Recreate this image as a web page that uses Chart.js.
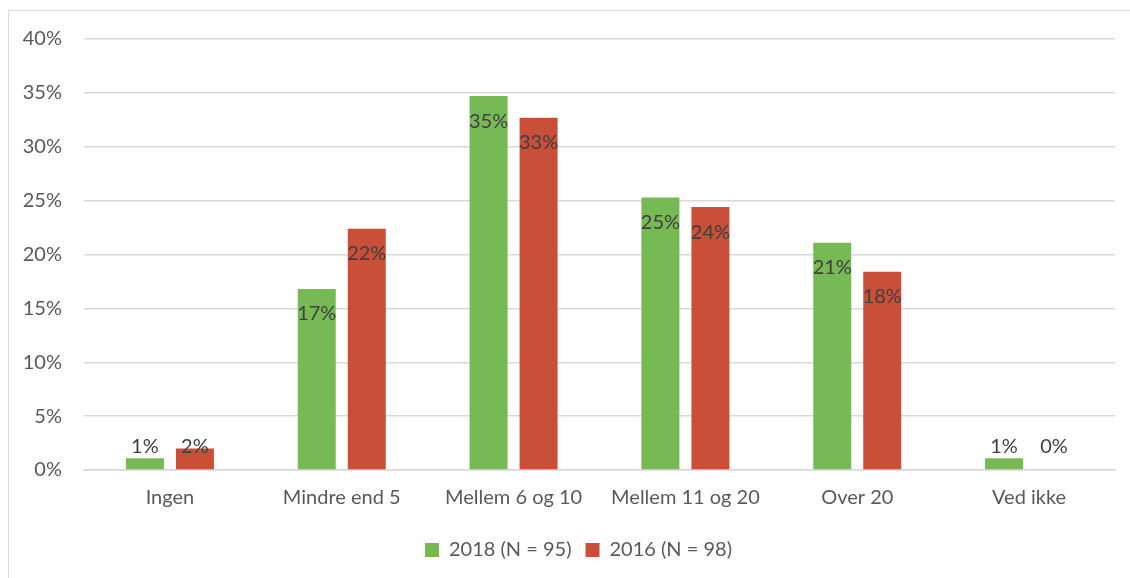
<!DOCTYPE html>
<html>
<head>
<meta charset="utf-8">
<script src="https://cdn.jsdelivr.net/npm/chart.js@4.4.1/dist/chart.umd.min.js"></script>
<style>
  html, body { margin: 0; padding: 0; background: #fff; }
  #wrap { position: relative; width: 1130px; height: 578px; overflow: hidden; }
  #frame { position: absolute; left: 8px; top: 10px; width: 1140px; height: 600px; border: 1px solid #d9d9d9; box-sizing: border-box; }
  #chart { position: absolute; left: 0; top: 0; }
</style>
</head>
<body>
<div id="wrap">
  <div id="frame"></div>
  <canvas id="chart" width="1130" height="578"></canvas>
</div>
<script>
// Data
const categories = ['Ingen', 'Mindre end 5', 'Mellem 6 og 10', 'Mellem 11 og 20', 'Over 20', 'Ved ikke'];
const values2018 = [1.1, 16.8, 34.7, 25.3, 21.1, 1.1];
const values2016 = [2.0, 22.4, 32.7, 24.4, 18.4, 0];
const seriesNames = ['2018 (N = 95)', '2016 (N = 98)'];
const yTicks = [0, 5, 10, 15, 20, 25, 30, 35, 40];

const FONT = 'Lato';
const FS = 20;
const GREEN = '#77b955';
const RED = '#c94f38';

// Value labels: inside the top of the bar, pushed up above the axis for short bars
const barLabels = {
  id: 'barLabels',
  afterDatasetsDraw(chart) {
    const ctx = chart.ctx;
    const zeroY = chart.scales.y.getPixelForValue(0);
    ctx.save();
    ctx.font = `${FS}px ${FONT}`;
    ctx.fillStyle = '#404040';
    ctx.textAlign = 'center';
    ctx.textBaseline = 'middle';
    chart.data.datasets.forEach((ds, i) => {
      chart.getDatasetMeta(i).data.forEach((bar, j) => {
        const y = Math.min(bar.y + 25, zeroY - 23);
        ctx.fillText(Math.round(ds.data[j]) + '%', bar.x, y);
      });
    });
    ctx.restore();
  }
};

// Legend sits centred under the plot area rather than the whole canvas
const shiftLegend = {
  id: 'shiftLegend',
  afterLayout(chart) {
    chart.legend.left += 21;
    chart.legend.right += 21;
  }
};

new Chart(document.getElementById('chart').getContext('2d'), {
  type: 'bar',
  data: {
    labels: categories,
    datasets: [
      { label: seriesNames[0], data: values2018, backgroundColor: GREEN, categoryPercentage: 0.582, barPercentage: 0.76 },
      { label: seriesNames[1], data: values2016, backgroundColor: RED, categoryPercentage: 0.582, barPercentage: 0.76 }
    ]
  },
  options: {
    responsive: false,
    animation: false,
    layout: { padding: { left: 0, right: 15, top: 39, bottom: 8 } },
    plugins: {
      tooltip: { enabled: false },
      legend: {
        position: 'bottom',
        labels: {
          color: '#595959',
          font: { family: FONT, size: FS },
          boxWidth: 14,
          boxHeight: 14,
          padding: 14
        }
      }
    },
    scales: {
      y: {
        min: 0,
        max: 40,
        afterBuildTicks: (s) => { s.ticks = yTicks.map(v => ({ value: v })); },
        afterFit: (s) => { s.width = 84; },
        ticks: {
          color: '#595959',
          font: { family: FONT, size: FS },
          padding: 22,
          callback: (v) => v + '%'
        },
        grid: { color: '#d9d9d9', lineWidth: 1.5, drawTicks: false },
        border: { display: false }
      },
      x: {
        ticks: { color: '#595959', font: { family: FONT, size: FS }, padding: 16 },
        grid: { display: false, drawTicks: false },
        border: { color: '#d9d9d9', width: 1.5 }
      }
    }
  },
  plugins: [barLabels, shiftLegend]
});
</script>
</body>
</html>
